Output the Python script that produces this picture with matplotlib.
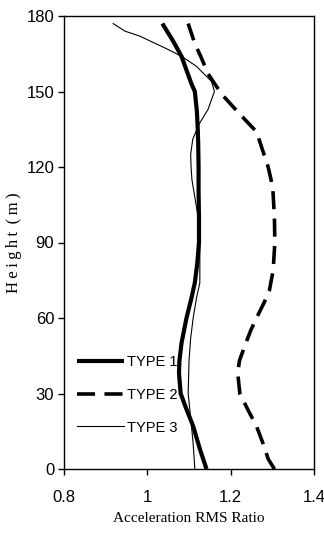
import numpy as np
import matplotlib
matplotlib.use("Agg")
from matplotlib import pyplot as plt

# acceleration RMS ratio along the height for three types
h1 = [0, 8, 17, 25, 30, 38, 43, 50, 60, 68, 74, 82, 90, 100, 110, 120, 130, 135, 142, 150, 153, 158, 164, 170, 177]
r1 = [1.142, 1.126, 1.110, 1.091, 1.080, 1.076, 1.077, 1.082, 1.094, 1.106, 1.114, 1.120, 1.124, 1.124, 1.123, 1.123, 1.122, 1.121, 1.119, 1.114, 1.106, 1.095, 1.082, 1.062, 1.036]

h2 = [0, 4, 10, 17, 24, 30, 38, 43, 49, 55, 60, 66, 71, 79, 90, 100, 112, 120, 127, 134, 141, 149, 157, 164, 169, 177]
r2 = [1.305, 1.290, 1.278, 1.262, 1.240, 1.222, 1.217, 1.221, 1.234, 1.248, 1.262, 1.280, 1.293, 1.302, 1.306, 1.305, 1.301, 1.290, 1.276, 1.262, 1.222, 1.178, 1.146, 1.128, 1.114, 1.098]

h3 = [0, 10, 17, 30, 43, 52, 60, 68, 74, 82, 90, 100, 108, 115, 120, 125, 131, 137, 143, 150, 154, 160, 164, 167, 172, 174, 177]
r3 = [1.114, 1.110, 1.106, 1.098, 1.100, 1.104, 1.110, 1.118, 1.126, 1.126, 1.126, 1.122, 1.114, 1.107, 1.105, 1.104, 1.109, 1.124, 1.146, 1.161, 1.154, 1.118, 1.082, 1.046, 0.982, 0.946, 0.918]

names = ["TYPE 1", "TYPE 2", "TYPE 3"]
xticks = [0.8, 1, 1.2, 1.4]
yticks = [0, 30, 60, 90, 120, 150, 180]

fig = plt.figure(figsize=(3.24, 5.34), dpi=100)
ax = fig.add_axes([64/324, 1 - 469/534, 250/324, 453/534])

ax.plot(r1, h1, color="black", lw=3.0, label=names[0], solid_capstyle="butt")
ax.plot(r2, h2, color="black", lw=2.6, dashes=(5, 2.6), label=names[1])
ax.plot(r3, h3, color="black", lw=0.8, label=names[2])

ax.set_xlim(0.8, 1.4)
ax.set_ylim(0, 180)
ax.set_xticks(xticks)
ax.set_xticklabels([str(t) for t in xticks])
ax.set_yticks(yticks)

for s in ax.spines.values():
    s.set_linewidth(1.0)
ax.tick_params(axis="y", direction="out", length=4, width=1, pad=3,
               labelsize=12)
ax.tick_params(axis="x", direction="out", length=4, width=1, pad=11,
               labelsize=12)
for lab in ax.get_xticklabels() + ax.get_yticklabels():
    lab.set_fontfamily("Liberation Sans")

ax.set_xlabel("Acceleration RMS Ratio", family="Liberation Serif",
              fontsize=11, labelpad=5)
ax.set_ylabel("H\u2009e\u2009i\u2009g\u2009h\u2009t\u2009 (\u2009m\u2009)",
              family="Liberation Serif", fontsize=12, labelpad=3)

leg = ax.legend(loc="lower left", bbox_to_anchor=(0.0, 0.047), frameon=False,
                handlelength=3.2, handletextpad=0.2, labelspacing=1.28,
                prop={"family": "Liberation Sans", "size": 10.5})

fig.savefig("out.png", dpi=100)
